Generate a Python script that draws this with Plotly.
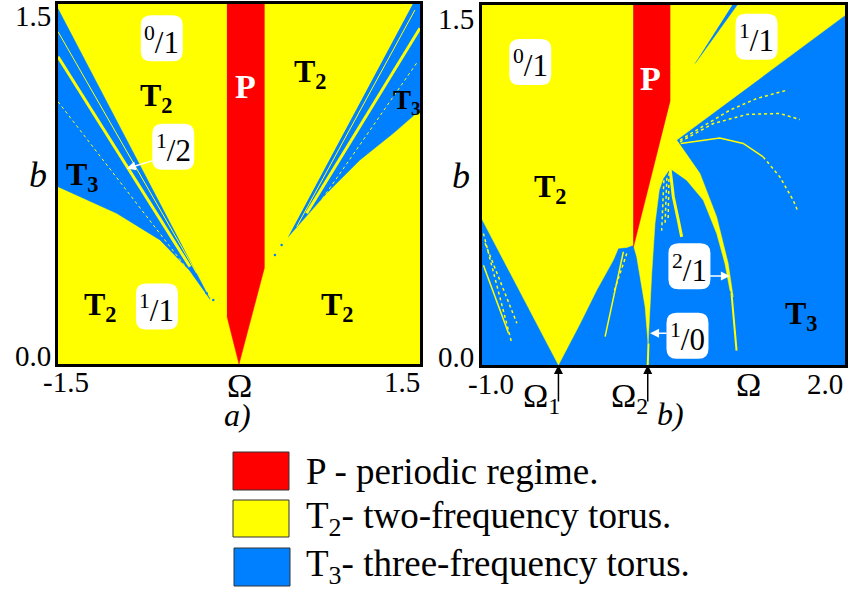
import plotly.graph_objects as go

# ---------------- data (Omega, b) ----------------
# Panel a)
a_P_omega = [-0.10, 0.21, 0.21, 0.0, -0.10]
a_P_b = [1.5, 1.5, 0.40, 0.0, 0.20]
a_T3L_omega = [-1.5, -0.24, -0.41, -0.655, -1.014, -1.5]
a_T3L_b = [1.48, 0.27, 0.39, 0.517, 0.628, 0.739]
a_T3R_omega = [1.44, 1.5, 1.5, 1.278, 1.002, 0.726, 0.408]
a_T3R_b = [1.5, 1.5, 1.058, 0.961, 0.85, 0.711, 0.53]
a_lines = [  # (omega, b, width, dash, color)
    ([-1.5, -0.406], [1.28, 0.405], 3, "solid", "y"),
    ([-1.5, -0.351], [1.385, 0.378], 1, "solid", "y"),
    ([-1.5, -0.38], [1.093, 0.364], 1, "dot", "y"),
    ([1.5, 0.56], [1.399, 0.628], 3, "solid", "y"),
    ([1.458, 0.478], [1.475, 0.572], 1, "solid", "y"),
    ([1.471, 0.588], [1.253, 0.614], 1, "dot", "y"),
]
a_dots_omega = [-0.268, -0.213, 0.353, 0.298]
a_dots_b = [0.295, 0.267, 0.496, 0.454]

# Panel b)
b_T2L_omega = [-1.0, 0.253, 0.253, 0.20, 0.129, 0.088, -0.049, -0.185, -0.365, -1.0]
b_T2L_b = [1.5, 1.5, 0.50, 0.49, 0.486, 0.437, 0.312, 0.174, 0.0, 0.611]
b_T2R_omega = [0.556, 2.0, 2.0, 0.611, 0.803, 0.941, 1.036, 1.077, 1.050, 1.009, 0.941,
               0.830, 0.693, 0.556, 0.500, 0.467, 0.432, 0.418, 0.405, 0.391, 0.380,
               0.375, 0.350, 0.308, 0.281, 0.253, 0.556]
b_T2R_b = [1.5, 1.5, 1.457, 0.937, 0.798, 0.617, 0.423, 0.284, 0.312, 0.423, 0.548,
           0.687, 0.770, 0.819, 0.777, 0.729, 0.590, 0.493, 0.382, 0.243, 0.090,
           0.090, 0.243, 0.382, 0.451, 0.50, 1.10]
b_P_omega = [0.253, 0.556, 0.556, 0.253]
b_P_b = [1.5, 1.5, 1.10, 0.49]
b_T3top_omega = [1.07, 1.11, 0.762]
b_T3top_b = [1.5, 1.5, 1.256]
b_lines = [
    ([0.644, 0.966, 1.160, 1.325], [0.923, 0.946, 0.923, 0.867], 1.5, "solid", "y"),
    ([1.325, 1.462, 1.572, 1.613], [0.867, 0.784, 0.687, 0.638], 1.5, "dot", "y"),
    ([0.638, 0.913, 1.188, 1.462, 1.627], [0.930, 1.006, 1.044, 1.048, 1.023], 1.5, "dot", "y"),
    ([0.638, 1.050, 1.270, 1.518], [0.937, 1.062, 1.110, 1.145], 1.5, "dot", "y"),
    ([0.556, 0.583, 0.624, 0.652], [0.819, 0.701, 0.604, 0.534], 3, "solid", "y"),
    ([1.063, 1.09, 1.105], [0.30, 0.15, 0.06], 2, "solid", "y"),
    ([0.378, 0.372], [0.09, 0.0], 2, "solid", "y"),
    ([0.505, 0.487], [0.77, 0.56], 1.5, "dot", "y"),
    ([0.53, 0.514], [0.78, 0.58], 1.5, "dot", "y"),
    ([0.548, 0.54], [0.80, 0.60], 1.5, "dot", "y"),
    ([0.171, 0.020], [0.472, 0.118], 1.5, "solid", "y"),
    ([0.199, 0.088], [0.465, 0.298], 1.5, "dot", "y"),
    ([-0.984, -0.75], [0.548, 0.09], 1.5, "dot", "y"),
    ([-0.984, -0.777], [0.416, 0.132], 1.5, "solid", "y"),
    ([-0.97, -0.708], [0.507, 0.174], 1.5, "dot", "y"),
]

a_xrange = [-1.5, 1.5]
b_xrange = [-1.0, 2.0]
yrange = [0.0, 1.5]

a_ticks = ["1.5", "0.0", "-1.5", "Ω", "1.5"]
b_ticks = ["1.5", "0.0", "-1.0", "Ω", "2.0"]
legend_labels = ["P - periodic regime.",
                 "T<sub>2</sub>- two-frequency torus.",
                 "T<sub>3</sub>- three-frequency torus."]

RED = "#FF0000"
YEL = "#FFFF00"
BLU = "#0080FF"
COL = {"y": YEL, "b": BLU}
FONT = "Liberation Serif"
W, H = 851, 594

fig = go.Figure()


def fill(xs, ys, color, p):
    xa, ya = ("x", "y") if p == "a" else ("x2", "y2")
    fig.add_trace(go.Scatter(x=xs, y=ys, fill="toself", fillcolor=color, mode="lines",
                             line=dict(width=0.5, color=color), xaxis=xa, yaxis=ya,
                             hoverinfo="skip", showlegend=False))


def line(xs, ys, w, dash, color, p):
    xa, ya = ("x", "y") if p == "a" else ("x2", "y2")
    fig.add_trace(go.Scatter(x=xs, y=ys, mode="lines", line=dict(width=w, dash=dash, color=color),
                             xaxis=xa, yaxis=ya, hoverinfo="skip", showlegend=False))


# panel a
fill(a_T3L_omega, a_T3L_b, BLU, "a")
fill(a_T3R_omega, a_T3R_b, BLU, "a")
for xs, ys, w, d, c in a_lines:
    line(xs, ys, w, d, COL[c], "a")
fig.add_trace(go.Scatter(x=a_dots_omega, y=a_dots_b, mode="markers",
                         marker=dict(size=2.5, color=BLU), hoverinfo="skip", showlegend=False))
fill(a_P_omega, a_P_b, RED, "a")

# panel b
fill(b_T2L_omega, b_T2L_b, YEL, "b")
fill(b_T2R_omega, b_T2R_b, YEL, "b")
fill(b_P_omega, b_P_b, RED, "b")
fill(b_T3top_omega, b_T3top_b, BLU, "b")
for xs, ys, w, d, c in b_lines:
    line(xs, ys, w, d, COL[c], "b")

axis_common = dict(showgrid=False, zeroline=False, showticklabels=False, ticks="",
                   showline=True, mirror=True, linecolor="black", linewidth=2.5)
fig.update_layout(
    width=W, height=H, margin=dict(l=0, r=0, t=0, b=0),
    paper_bgcolor="white", plot_bgcolor=YEL, showlegend=False,
    xaxis=dict(domain=[58 / W, 420 / W], range=a_xrange, anchor="y", **axis_common),
    yaxis=dict(domain=[1 - 364 / H, 1 - 4 / H], range=yrange, anchor="x", **axis_common),
    xaxis2=dict(domain=[481.5 / W, 845 / W], range=b_xrange, anchor="y2", **axis_common),
    yaxis2=dict(domain=[1 - 365 / H, 1 - 5 / H], range=yrange, anchor="x2", **axis_common),
)

shapes = [dict(type="rect", xref="x2 domain", yref="y2 domain", x0=0, x1=1, y0=0, y1=1,
               fillcolor=BLU, line=dict(width=0), layer="below")]


def rbox(xref, yref, x, y, w=42, h=46, r=10):
    hw, hh = w / 2, h / 2
    path = (f"M {-hw + r},{-hh} L {hw - r},{-hh} Q {hw},{-hh} {hw},{-hh + r} "
            f"L {hw},{hh - r} Q {hw},{hh} {hw - r},{hh} L {-hw + r},{hh} "
            f"Q {-hw},{hh} {-hw},{hh - r} L {-hw},{-hh + r} Q {-hw},{-hh} {-hw + r},{-hh} Z")
    shapes.append(dict(type="path", xref=xref, yref=yref, xsizemode="pixel", ysizemode="pixel",
                       xanchor=x, yanchor=y, path=path, fillcolor="white",
                       line=dict(width=0), layer="above"))


ann = []


def ptext(px, py, text, size, italic=False, color="black", xanchor="center", bold=False):
    t = text
    if bold:
        t = "<b>" + t + "</b>"
    if italic:
        t = "<i>" + t + "</i>"
    ann.append(dict(x=px / W, y=1 - py / H, xref="paper", yref="paper", text=t, showarrow=False,
                    xanchor=xanchor, yanchor="middle", font=dict(family=FONT, size=size, color=color)))


def dtext(p, x, y, text, size, color="black", bold=True):
    xr, yr = ("x", "y") if p == "a" else ("x2", "y2")
    t = "<b>" + text + "</b>" if bold else text
    ann.append(dict(x=x, y=y, xref=xr, yref=yr, text=t, showarrow=False,
                    font=dict(family=FONT, size=size, color=color)))


def frac(p, x, y, num, den):
    xr, yr = ("x", "y") if p == "a" else ("x2", "y2")
    rbox(xr, yr, x, y)
    ann.append(dict(x=x, y=y, xref=xr, yref=yr, text=f"<sup>{num}</sup>/{den}", showarrow=False,
                    yshift=-2, font=dict(family=FONT, size=31, color="black")))


def arrow(p, x, y, ax, ay, color="white", width=1.5):
    xr, yr = ("x", "y") if p == "a" else ("x2", "y2")
    ann.append(dict(x=x, y=y, xref=xr, yref=yr, text="", showarrow=True, ax=ax, ay=ay,
                    arrowhead=2, arrowsize=1.2, arrowwidth=width, arrowcolor=color))


# labels panel a
dtext("a", -0.68, 1.11, "T<sub>2</sub>", 32)
dtext("a", 0.59, 1.21, "T<sub>2</sub>", 32)
dtext("a", -1.15, 0.24, "T<sub>2</sub>", 32)
dtext("a", 0.82, 0.24, "T<sub>2</sub>", 32)
dtext("a", -1.30, 0.78, "T<sub>3</sub>", 32)
dtext("a", 1.39, 1.09, "T<sub>3</sub>", 27)
dtext("a", 0.05, 1.155, "P", 34, color="white")
frac("a", -0.64, 1.357, 0, 1)
frac("a", -0.545, 0.905, 1, 2)
frac("a", -0.68, 0.24, 1, 1)
arrow("a", -0.93, 0.815, 27, -8)

# labels panel b
dtext("b", -0.434, 0.736, "T<sub>2</sub>", 32)
dtext("b", 1.641, 0.208, "T<sub>3</sub>", 32)
dtext("b", 0.391, 1.194, "P", 34, color="white")
frac("b", -0.598, 1.263, 0, 1)
frac("b", 1.270, 1.368, 1, 1)
frac("b", 0.716, 0.411, 2, 1)
frac("b", 0.700, 0.122, 1, 0)
arrow("b", 1.050, 0.371, -22, 0)
arrow("b", 0.391, 0.132, 18, 0)
arrow("b", -0.365, 0.0, 0, 38, color="black", width=1.5)
arrow("b", 0.372, 0.0, 0, 38, color="black", width=1.5)

# tick-like labels
ptext(33, 16, a_ticks[0], 29)
ptext(33, 356, a_ticks[1], 29)
ptext(66, 382, a_ticks[2], 29)
ptext(239, 385, a_ticks[3], 34)
ptext(402, 382, a_ticks[4], 29)
ptext(456, 19, b_ticks[0], 29)
ptext(456, 357, b_ticks[1], 29)
ptext(491, 384, b_ticks[2], 29)
ptext(748, 384, b_ticks[3], 34)
ptext(825, 384, b_ticks[4], 29)
ptext(541, 398, "Ω<sub>1</sub>", 34)
ptext(629, 398, "Ω<sub>2</sub>", 34)
ptext(38, 175, "b", 36, italic=True)
ptext(461, 176, "b", 36, italic=True)
ptext(238, 415, "a)", 32, italic=True)
ptext(670, 414, "b)", 32, italic=True)

# legend
leg_boxes = [(233, 452, 289, 490, RED), (233, 500, 289, 537, YEL), (234, 548, 290, 586, BLU)]
leg_text_y = [471, 518, 566]
for (x0, y0, x1, y1, c), lab, ty in zip(leg_boxes, legend_labels, leg_text_y):
    shapes.append(dict(type="rect", xref="paper", yref="paper", x0=x0 / W, x1=x1 / W,
                       y0=1 - y1 / H, y1=1 - y0 / H, fillcolor=c, line=dict(color="#333333", width=1)))
    ptext(304, ty, lab, 37, xanchor="left")

fig.update_layout(shapes=shapes, annotations=ann)
fig.write_html("out.html", config={"displayModeBar": False},
               post_script="document.body.style.margin='0px';document.body.style.overflow='hidden';")
